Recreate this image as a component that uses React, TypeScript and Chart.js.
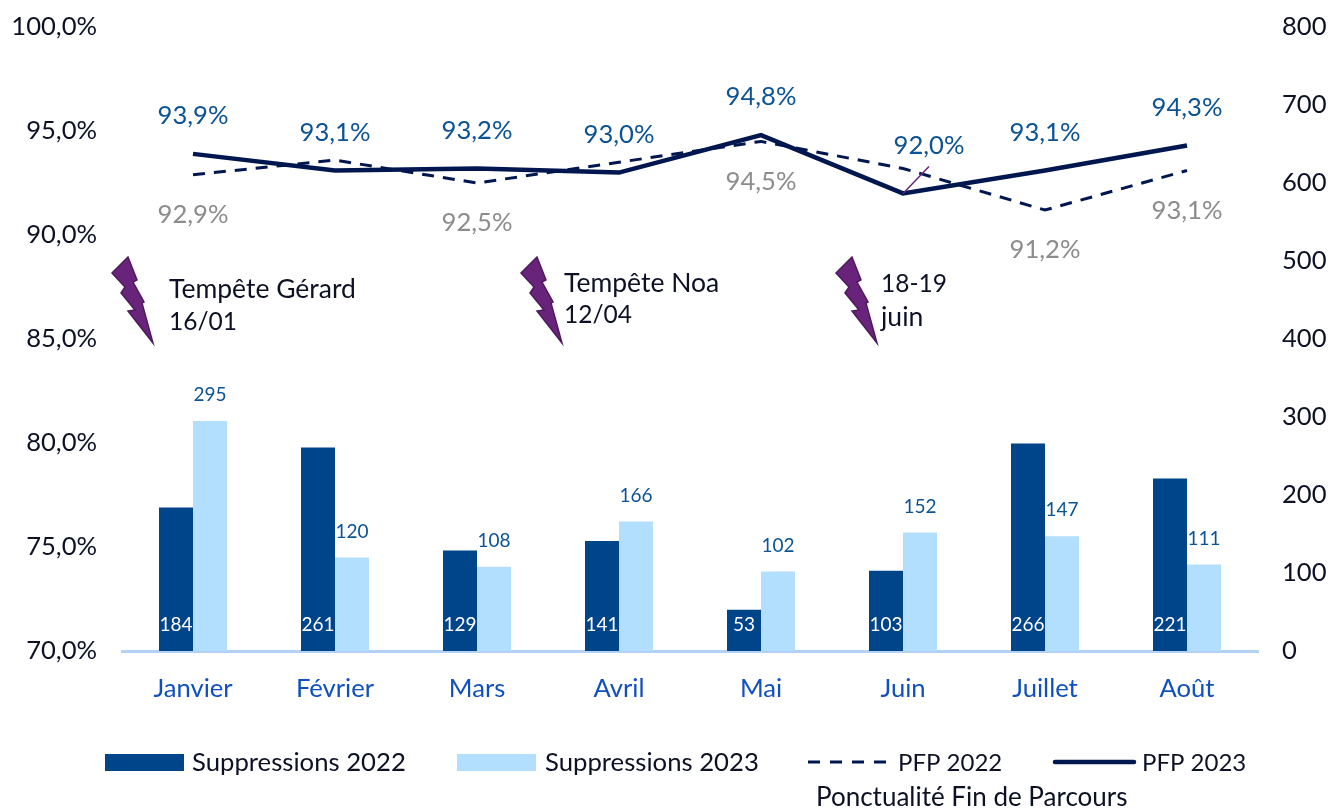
import React, { useEffect, useRef } from "react";
import { Chart, registerables } from "chart.js";

Chart.register(...registerables);

const months = ["Janvier", "Février", "Mars", "Avril", "Mai", "Juin", "Juillet", "Août"];
const suppressions2022 = [184, 261, 129, 141, 53, 103, 266, 221];
const suppressions2023 = [295, 120, 108, 166, 102, 152, 147, 111];
const pfp2022 = [92.9, 93.6, 92.5, 93.5, 94.5, 93.2, 91.2, 93.1];
const pfp2023 = [93.9, 93.1, 93.2, 93.0, 94.8, 92.0, 93.1, 94.3];
const pfp2022Labelled = [true, false, true, false, true, false, true, true];

const FONT = "Lato, Carlito, sans-serif";
const DARK_BLUE = "#004489";
const LIGHT_BLUE = "#b3dfff";
const NAVY = "#00164f";
const INK = "#0c1124";
const LABEL_BLUE = "#0b5394";
const GREY = "#8c8c8c";
const PURPLE = "#68247a";

const fmt = (v: number) => v.toFixed(1).replace(".", ",") + "%";

const bolt: [number, number][] = [
  [28, 17], [12, 33], [25, 47], [21, 53], [35, 70], [28, 71], [53, 103],
  [42, 63], [44, 62], [33, 42], [37, 40],
];

const storms = [
  { x: 100, lines: ["Tempête Gérard", "16/01"], tx: 169, ys: [289, 322] },
  { x: 509, lines: ["Tempête Noa", "12/04"], tx: 564, ys: [283, 315] },
  { x: 824, lines: ["18-19", "juin"], tx: 881, ys: [284, 317] },
];

const annotate = {
  id: "annotate",
  afterDatasetsDraw(chart: any) {
    const c = chart.ctx as CanvasRenderingContext2D;
    c.save();
    c.textAlign = "center";
    c.textBaseline = "middle";

    const m0 = chart.getDatasetMeta(0).data;
    const m1 = chart.getDatasetMeta(1).data;
    const m2 = chart.getDatasetMeta(2).data;
    const m3 = chart.getDatasetMeta(3).data;
    const base = chart.scales.yRight.getPixelForValue(0);

    c.font = `19px ${FONT}`;
    months.forEach((_, i) => {
      c.fillStyle = "#ffffff";
      c.fillText(String(suppressions2022[i]), m0[i].x, base - 26);
      c.fillStyle = LABEL_BLUE;
      c.fillText(String(suppressions2023[i]), m1[i].x, m1[i].y - 26);
    });

    c.font = `25.6px ${FONT}`;
    months.forEach((_, i) => {
      if (pfp2022Labelled[i]) {
        c.fillStyle = GREY;
        c.fillText(fmt(pfp2022[i]), m2[i].x, m2[i].y + 40);
      }
      c.fillStyle = LABEL_BLUE;
      const lift = i === 5 ? 48 : 38;
      c.fillText(fmt(pfp2023[i]), m3[i].x + (i === 5 ? 26 : 0), m3[i].y - lift);
    });

    // leader line of the June label
    c.strokeStyle = PURPLE;
    c.lineWidth = 1.5;
    c.beginPath();
    c.moveTo(m3[5].x, m3[5].y);
    c.lineTo(m3[5].x + 26, m3[5].y - 27);
    c.stroke();

    // storm annotations
    storms.forEach((s) => {
      c.beginPath();
      bolt.forEach(([px, py], i) => {
        const x = s.x + px;
        const y = 240 + py;
        if (i === 0) c.moveTo(x, y);
        else c.lineTo(x, y);
      });
      c.closePath();
      c.fillStyle = PURPLE;
      c.strokeStyle = "#4f1a5c";
      c.lineWidth = 1.5;
      c.fill();
      c.stroke();
      c.fillStyle = INK;
      c.textAlign = "left";
      s.lines.forEach((t, i) => {
        c.font = `${/\d/.test(t) ? 24.5 : 26.5}px ${FONT}`;
        c.fillText(t, s.tx, s.ys[i]);
      });
      c.textAlign = "center";
    });

    // legend
    c.textAlign = "left";
    c.fillStyle = DARK_BLUE;
    c.fillRect(105, 754, 79, 17);
    c.fillStyle = LIGHT_BLUE;
    c.fillRect(457, 754, 79, 17);
    c.strokeStyle = NAVY;
    c.lineCap = "butt";
    c.lineWidth = 3;
    c.setLineDash([12, 10]);
    c.beginPath();
    c.moveTo(808, 762);
    c.lineTo(892, 762);
    c.stroke();
    c.setLineDash([]);
    c.lineWidth = 4.5;
    c.lineCap = "round";
    c.beginPath();
    c.moveTo(1055, 762);
    c.lineTo(1134, 762);
    c.stroke();
    c.fillStyle = INK;
    c.font = `25.7px ${FONT}`;
    c.fillText(chart.data.datasets[0].label, 192, 763);
    c.fillText(chart.data.datasets[1].label, 545, 763);
    c.font = `24px ${FONT}`;
    c.fillText(chart.data.datasets[2].label, 898, 763);
    c.fillText(chart.data.datasets[3].label, 1142, 763);
    c.font = `26px ${FONT}`;
    c.fillText("Ponctualité Fin de Parcours", 816, 798);
    c.restore();
  },
};

const flushY = (s: any, width: number) => {
  s.width = width;
  s.paddingTop = 0;
  s.paddingBottom = 0;
};

export default function App() {
  const ref = useRef<HTMLCanvasElement>(null);
  useEffect(() => {
    const chart = new Chart(ref.current!, {
      data: {
        labels: months,
        datasets: [
          { type: "bar", label: "Suppressions 2022", data: suppressions2022, backgroundColor: DARK_BLUE, yAxisID: "yRight", order: 3, categoryPercentage: 68 / 142, barPercentage: 1 },
          { type: "bar", label: "Suppressions 2023", data: suppressions2023, backgroundColor: LIGHT_BLUE, yAxisID: "yRight", order: 3, categoryPercentage: 68 / 142, barPercentage: 1 },
          { type: "line", label: "PFP 2022", data: pfp2022, borderColor: NAVY, borderWidth: 3, borderDash: [12, 9], pointRadius: 0, tension: 0, yAxisID: "yLeft", order: 2 },
          { type: "line", label: "PFP 2023", data: pfp2023, borderColor: NAVY, borderWidth: 4.5, pointRadius: 0, tension: 0, yAxisID: "yLeft", order: 1 },
        ],
      } as any,
      options: {
        responsive: false,
        animation: false,
        layout: { padding: { top: 27, left: 0, right: 0, bottom: 0 } },
        plugins: { legend: { display: false }, tooltip: { enabled: false } },
        scales: {
          x: {
            grid: { display: false, drawTicks: false },
            border: { color: "#b3d0f5", width: 3 },
            ticks: { color: "#0f4fc0", font: { family: FONT, size: 25.6 }, padding: 22, maxRotation: 0 },
            afterFit(s: any) { s.height = 158; s.paddingLeft = 0; s.paddingRight = 0; },
          },
          yLeft: {
            position: "left",
            min: 70,
            max: 100,
            grid: { display: false, drawTicks: false },
            border: { display: false },
            ticks: { stepSize: 5, color: INK, font: { family: FONT, size: 25.6 }, padding: 25, callback: (v: any) => fmt(Number(v)) },
            afterFit(s: any) { flushY(s, 122); },
          },
          yRight: {
            position: "right",
            min: 0,
            max: 800,
            grid: { display: false, drawTicks: false },
            border: { display: false },
            ticks: { stepSize: 100, color: INK, font: { family: FONT, size: 25.6 }, padding: 24 },
            afterFit(s: any) { flushY(s, 72); },
          },
        },
      } as any,
      plugins: [annotate],
    });
    return () => chart.destroy();
  }, []);
  return (
    <canvas
      ref={ref}
      width={1330}
      height={809}
      style={{ position: "absolute", left: 0, top: 0, width: 1330, height: 809 }}
    />
  );
}
